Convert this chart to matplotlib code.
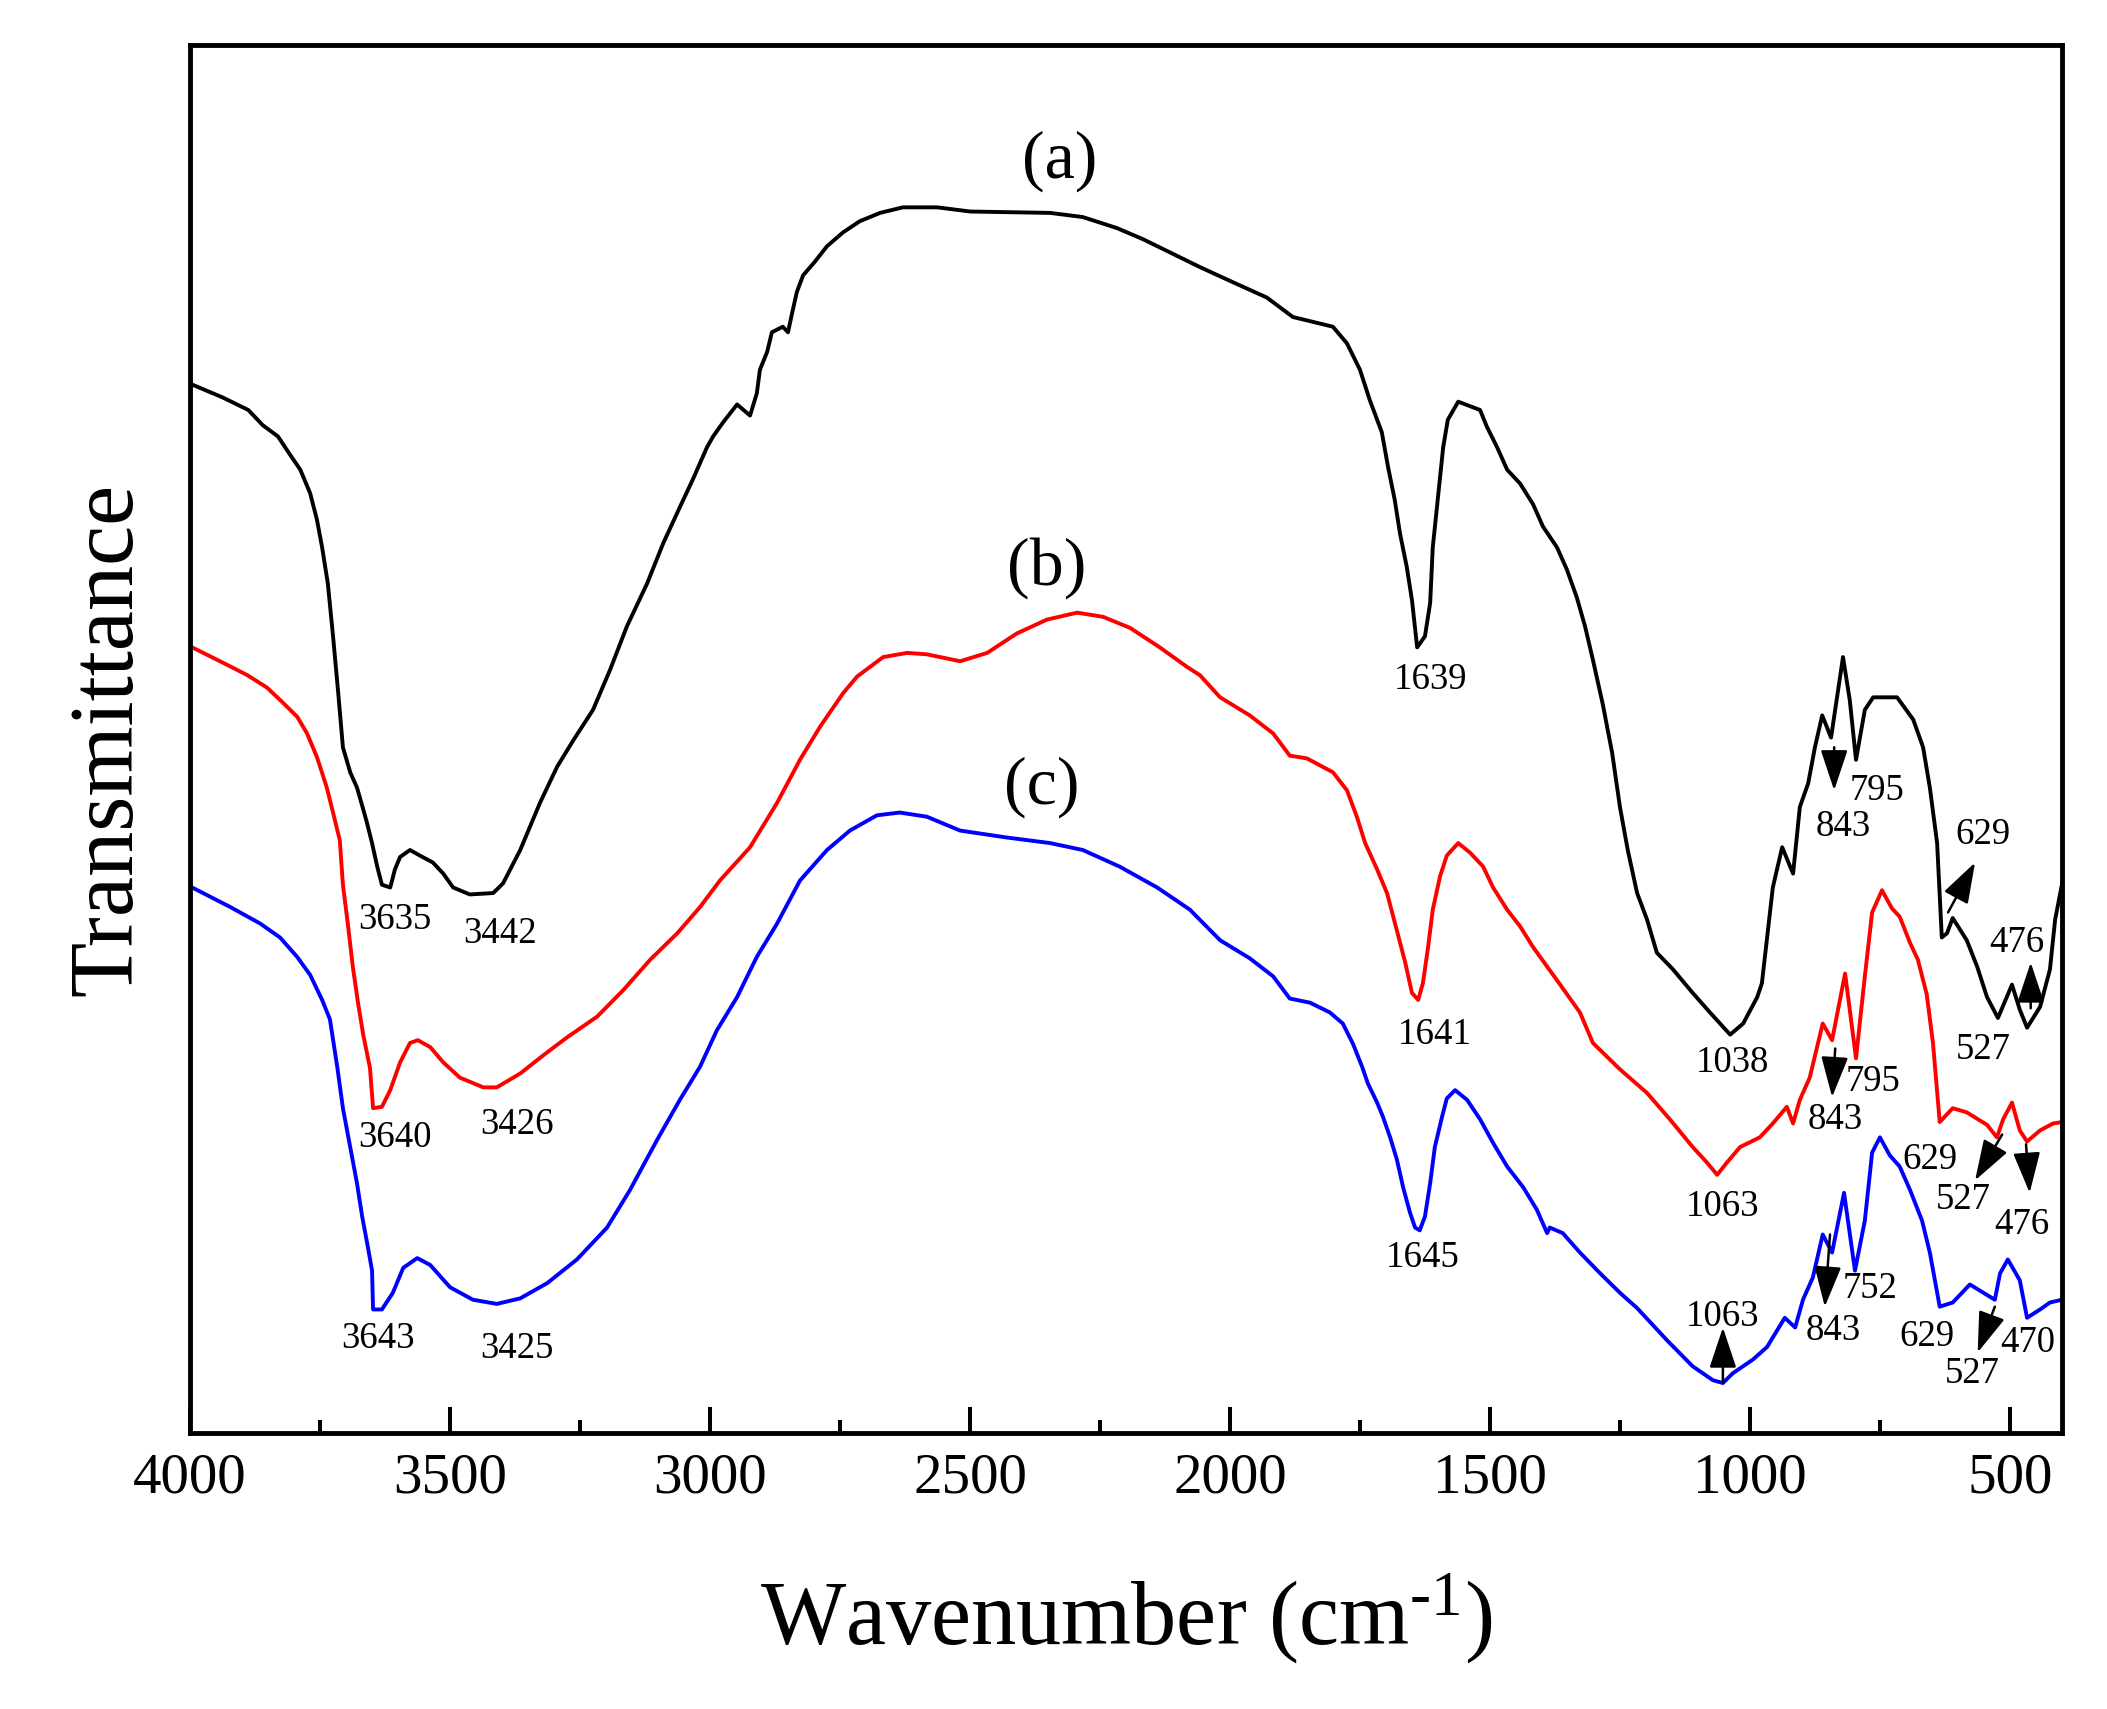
import matplotlib
matplotlib.use("Agg")
import matplotlib.pyplot as plt
from matplotlib.ticker import MultipleLocator

plt.rcParams['font.family'] = ['Liberation Serif', 'DejaVu Serif']
plt.rcParams['mathtext.fontset'] = 'custom'
plt.rcParams['mathtext.rm'] = 'Liberation Serif'
plt.rcParams['mathtext.it'] = 'Liberation Serif:italic'

# spectrum (a) - black
wn_a = [3994, 3937, 3888, 3860, 3831, 3808, 3788, 3769, 3756, 3746, 3735, 3725, 3715, 3706,
        3692, 3679, 3669, 3660, 3650, 3640, 3631, 3615, 3606, 3596, 3577, 3558, 3533, 3513,
        3494, 3462, 3417, 3398, 3365, 3327, 3294, 3263, 3225, 3192, 3160, 3121, 3090, 3058,
        3033, 3006, 2994, 2975, 2948, 2923, 2910, 2904, 2890, 2881, 2860, 2850, 2842, 2833,
        2821, 2798, 2775, 2744, 2712, 2673, 2629, 2563, 2500, 2346, 2283, 2217, 2167, 2096,
        2058, 1994, 1929, 1879, 1802, 1775, 1750, 1731, 1708, 1696, 1683, 1673, 1660, 1650,
        1640, 1625, 1615, 1610, 1600, 1590, 1581, 1561, 1519, 1506, 1486, 1467, 1442, 1417,
        1398, 1371, 1352, 1333, 1317, 1302, 1283, 1265, 1250, 1235, 1217, 1198, 1179, 1148,
        1110, 1077, 1038, 1013, 986, 977, 967, 956, 938, 917, 904, 888, 875, 861, 844, 821,
        808, 796, 779, 763, 717, 686, 667, 654, 640, 631, 621, 610, 583, 563, 544, 523, 496,
        481, 467, 442, 423, 413, 400]
t_a = [75.5, 74.6, 73.7, 72.6, 71.8, 70.5, 69.4, 67.7, 65.8, 63.8, 61.2, 57.4, 53.3, 49.4,
       47.6, 46.5, 45.2, 44.0, 42.5, 40.8, 39.5, 39.3, 40.6, 41.5, 42.0, 41.6, 41.1, 40.3,
       39.3, 38.8, 38.9, 39.6, 42.0, 45.4, 48.0, 49.9, 52.1, 55.0, 58.1, 61.2, 64.1, 66.7,
       68.7, 71.0, 71.8, 72.8, 74.1, 73.3, 74.9, 76.6, 77.9, 79.3, 79.7, 79.3, 80.7, 82.2,
       83.4, 84.4, 85.5, 86.5, 87.3, 87.9, 88.3, 88.3, 88.0, 87.9, 87.6, 86.8, 86.0, 84.7,
       84.0, 82.9, 81.8, 80.4, 79.7, 78.5, 76.6, 74.4, 72.1, 69.6, 67.2, 64.8, 62.4, 60.0,
       56.6, 57.4, 59.8, 63.8, 67.4, 71.0, 73.0, 74.3, 73.7, 72.5, 71.0, 69.4, 68.4, 66.9,
       65.3, 63.8, 62.2, 60.2, 58.1, 55.7, 52.5, 49.0, 45.1, 42.0, 38.9, 37.0, 34.6, 33.4,
       31.7, 30.3, 28.7, 29.5, 31.4, 32.4, 35.7, 39.3, 42.2, 40.3, 45.1, 46.8, 49.4, 51.7,
       50.1, 55.9, 52.8, 48.5, 52.1, 53.0, 53.0, 51.4, 49.4, 46.5, 42.5, 35.7, 36.0, 37.1,
       35.5, 33.6, 31.4, 29.9, 32.3, 30.5, 29.2, 30.7, 33.4, 37.0, 39.5]

# spectrum (b) - red
wn_b = [3996, 3937, 3890, 3852, 3821, 3794, 3775, 3756, 3737, 3725, 3712, 3706, 3696, 3687,
        3677, 3667, 3654, 3648, 3631, 3615, 3596, 3577, 3562, 3538, 3513, 3481, 3436, 3410,
        3365, 3321, 3275, 3217, 3167, 3115, 3063, 3019, 2981, 2923, 2871, 2827, 2788, 2744,
        2717, 2667, 2621, 2583, 2519, 2467, 2410, 2352, 2294, 2244, 2192, 2135, 2083, 2058,
        2019, 1962, 1917, 1885, 1852, 1802, 1775, 1756, 1740, 1717, 1698, 1679, 1663, 1650,
        1638, 1629, 1619, 1610, 1596, 1583, 1561, 1538, 1513, 1494, 1467, 1442, 1417, 1390,
        1365, 1327, 1302, 1250, 1198, 1154, 1110, 1083, 1063, 1044, 1019, 981, 956, 929, 917,
        904, 885, 860, 842, 817, 796, 779, 765, 746, 727, 712, 692, 677, 660, 648, 635, 610,
        583, 544, 525, 513, 496, 481, 467, 442, 417, 400]
t_b = [56.6, 55.5, 54.6, 53.7, 52.6, 51.6, 50.4, 48.7, 46.5, 44.7, 42.7, 39.5, 36.5, 33.6,
       31.0, 28.7, 26.3, 23.4, 23.5, 24.7, 26.7, 28.1, 28.3, 27.8, 26.7, 25.6, 24.9, 24.9,
       25.9, 27.2, 28.5, 30.0, 31.9, 34.1, 36.0, 37.9, 39.8, 42.2, 45.4, 48.5, 50.9, 53.3,
       54.5, 55.9, 56.2, 56.1, 55.6, 56.2, 57.6, 58.6, 59.1, 58.8, 58.0, 56.6, 55.2, 54.6,
       53.0, 51.7, 50.4, 48.8, 48.6, 47.6, 46.3, 44.4, 42.5, 40.6, 38.9, 36.2, 33.9, 31.7,
       31.2, 32.4, 35.0, 37.7, 40.1, 41.6, 42.5, 41.8, 40.8, 39.3, 37.7, 36.5, 35.0, 33.6,
       32.3, 30.3, 28.1, 26.2, 24.5, 22.6, 20.6, 19.5, 18.6, 19.5, 20.6, 21.3, 22.3, 23.5,
       22.3, 24.0, 25.6, 29.5, 28.3, 33.1, 27.0, 32.9, 37.5, 39.1, 37.8, 37.2, 35.3, 34.1,
       31.6, 28.1, 22.4, 23.4, 23.1, 22.2, 21.3, 22.6, 23.8, 21.8, 21.0, 21.8, 22.3, 22.4]

# spectrum (c) - blue
wn_c = [3996, 3923, 3865, 3827, 3794, 3769, 3746, 3731, 3717, 3706, 3692, 3679, 3669, 3658,
        3650, 3648, 3631, 3610, 3590, 3563, 3538, 3500, 3456, 3410, 3365, 3313, 3256, 3198,
        3154, 3102, 3058, 3019, 2987, 2948, 2910, 2871, 2827, 2775, 2731, 2679, 2635, 2583,
        2519, 2429, 2346, 2283, 2212, 2140, 2077, 2019, 1962, 1917, 1885, 1846, 1808, 1783,
        1763, 1746, 1735, 1717, 1706, 1692, 1679, 1667, 1654, 1644, 1635, 1625, 1615, 1606,
        1592, 1583, 1567, 1544, 1519, 1494, 1467, 1436, 1410, 1390, 1385, 1360, 1327, 1288,
        1250, 1217, 1160, 1110, 1071, 1052, 1033, 994, 967, 933, 913, 898, 879, 860, 842,
        819, 798, 779, 765, 750, 731, 712, 692, 669, 654, 635, 610, 577, 529, 519, 504, 481,
        467, 442, 423, 400]
t_c = [39.3, 37.9, 36.7, 35.7, 34.3, 33.0, 31.2, 29.8, 26.4, 23.4, 20.6, 18.0, 15.6, 13.4,
       11.7, 8.9, 8.9, 10.1, 11.9, 12.6, 12.1, 10.5, 9.6, 9.3, 9.7, 10.8, 12.5, 14.8, 17.5,
       21.1, 24.0, 26.4, 29.0, 31.4, 34.3, 36.7, 39.8, 42.0, 43.4, 44.5, 44.7, 44.4, 43.4,
       42.9, 42.5, 42.0, 40.8, 39.3, 37.7, 35.5, 34.2, 32.9, 31.3, 31.0, 30.3, 29.5, 28.0,
       26.4, 25.2, 23.8, 22.8, 21.3, 19.7, 17.7, 15.9, 14.8, 14.6, 15.6, 18.0, 20.6, 22.8,
       24.1, 24.7, 24.0, 22.6, 20.9, 19.2, 17.7, 16.1, 14.4, 14.8, 14.4, 13.0, 11.5, 10.1,
       9.0, 6.7, 4.8, 3.8, 3.6, 4.3, 5.3, 6.2, 8.3, 7.6, 9.6, 11.2, 14.3, 13.0, 17.3, 11.7,
       15.3, 20.2, 21.3, 20.0, 19.2, 17.5, 15.3, 13.0, 9.1, 9.4, 10.7, 9.6, 11.5, 12.5, 11.0,
       8.3, 8.9, 9.4, 9.6]

# curve names
curve_names = ['(a)', '(b)', '(c)']
curve_name_wn = [2327, 2352, 2362]
curve_name_t = [91.6, 62.3, 46.5]

# peak labels
peak_text = ['3635', '3442', '3640', '3426', '3643', '3425', '1639', '1641', '1645',
             '795', '843', '629', '476', '527', '1038',
             '1063', '795', '843', '629', '527', '476',
             '1063', '752', '843', '629', '527', '470']
peak_wn = [3606, 3404, 3606, 3371, 3638, 3371, 1615, 1606, 1629,
           756, 821, 552, 486, 552, 1033,
           1052, 763, 836, 654, 590, 477,
           1052, 769, 840, 660, 573, 465]
peak_t = [37.0, 36.0, 21.3, 22.2, 6.8, 6.1, 54.3, 28.7, 12.6,
          46.3, 43.7, 43.1, 35.3, 27.6, 26.7,
          16.3, 25.3, 22.6, 19.7, 16.8, 15.0,
          8.4, 10.4, 7.4, 6.9, 4.3, 6.5]

# arrows: tail -> head
arrow_tail_wn = [838, 619, 460, 836, 515, 469, 1052, 846, 529]
arrow_tail_t = [49.4, 37.5, 30.6, 27.7, 21.5, 20.8, 3.6, 14.3, 9.1]
arrow_head_wn = [838, 567, 460, 842, 567, 462, 1052, 856, 562]
arrow_head_t = [46.3, 41.1, 33.9, 24.2, 18.2, 17.3, 7.6, 9.1, 5.8]

fig = plt.figure(figsize=(21.07, 17.09), dpi=100)
ax = fig.add_axes([0.0902, 0.1615, 0.8884, 0.8122])

ax.plot(wn_a, t_a, color='black', lw=2.8)
ax.plot(wn_b, t_b, color='red', lw=2.8)
ax.plot(wn_c, t_c, color='blue', lw=2.8)

for name, x, y in zip(curve_names, curve_name_wn, curve_name_t):
    ax.text(x, y, name, fontsize=49, ha='center', va='center')

for s, x, y in zip(peak_text, peak_wn, peak_t):
    ax.text(x, y, s, fontsize=26.5, ha='center', va='center')

for x0, y0, x1, y1 in zip(arrow_tail_wn, arrow_tail_t, arrow_head_wn, arrow_head_t):
    ax.annotate('', xy=(x1, y1), xytext=(x0, y0),
                arrowprops=dict(arrowstyle='-|>,head_length=0.6,head_width=0.2',
                                mutation_scale=42, color='black', lw=1.8,
                                shrinkA=0, shrinkB=0))

ax.set_xlim(4000, 400)
ax.set_ylim(0, 100)

ax.xaxis.set_major_locator(MultipleLocator(500))
ax.xaxis.set_minor_locator(MultipleLocator(250))
ax.tick_params(axis='x', which='major', direction='in', length=19, width=2.9,
               labelsize=41, pad=14, top=False)
ax.tick_params(axis='x', which='minor', direction='in', length=9.5, width=2.9, top=False)
ax.set_yticks([])

for sp in ax.spines.values():
    sp.set_linewidth(3.5)

ax.set_xlabel(r'Wavenumber (cm$^{\text{-1}}$)', fontsize=65)
ax.xaxis.set_label_coords(0.5, -0.10)
ax.set_ylabel('Transmittance', fontsize=65)
ax.yaxis.set_label_coords(-0.021, 0.5)

fig.savefig('out.png', dpi=100)
